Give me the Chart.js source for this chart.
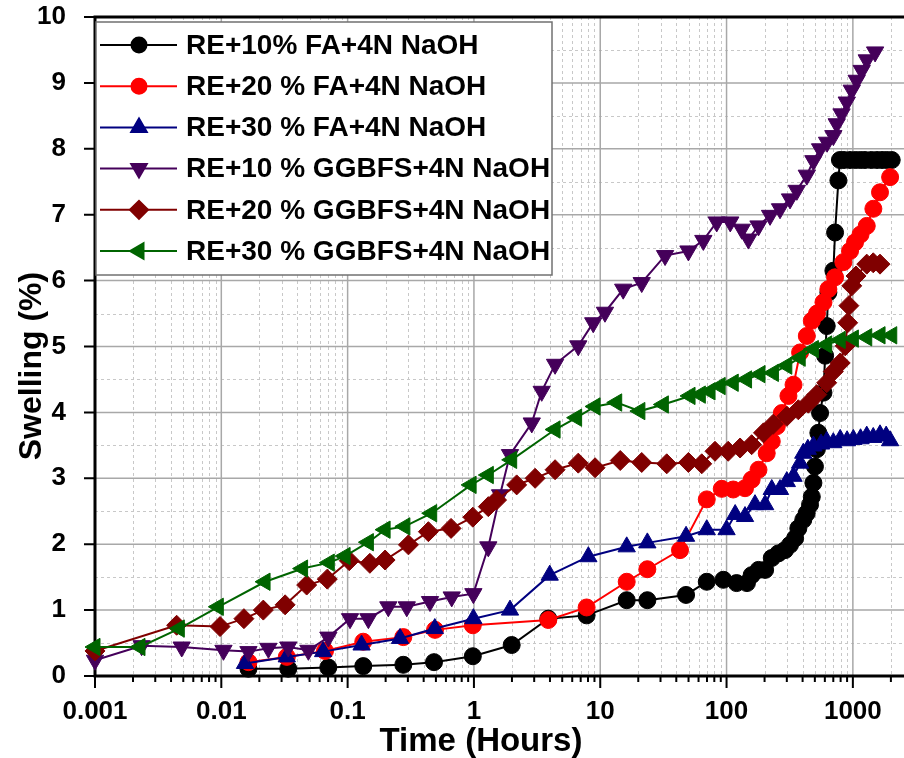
<!DOCTYPE html>
<html>
<head>
<meta charset="utf-8">
<title>Swelling vs time</title>
<script src="https://cdn.jsdelivr.net/npm/chart.js@4.4.1/dist/chart.umd.min.js"></script>
<style>
  html, body { margin: 0; padding: 0; background: #fff; }
  #wrap { width: 904px; height: 758px; }
</style>
</head>
<body>
<div id="wrap"><canvas id="swellChart" width="904" height="758"></canvas></div>
<script>
// Series names (legend order)
const seriesLabels = [
    "RE+10% FA+4N NaOH",
    "RE+20 % FA+4N NaOH",
    "RE+30 % FA+4N NaOH",
    "RE+10 % GGBFS+4N NaOH",
    "RE+20 % GGBFS+4N NaOH",
    "RE+30 % GGBFS+4N NaOH"
];

// Tick labels
const xTickValues = [0.001, 0.01, 0.1, 1, 10, 100, 1000];
const xTickLabels = ["0.001", "0.01", "0.1", "1", "10", "100", "1000"];
const yTickValues = [0, 1, 2, 3, 4, 5, 6, 7, 8, 9, 10];

// RE+10% FA
const fa10Time = [0.0164, 0.0339, 0.0703, 0.133, 0.276, 0.483, 0.98, 1.99, 3.88, 7.8, 16.2, 23.6, 47.8, 69.7, 94.4, 120, 145, 158, 179, 202, 228, 257, 290, 318, 349, 370, 405, 431, 458, 473, 487, 501, 518, 533, 550, 585, 603, 621, 640, 701, 723, 768, 790, 850, 950, 1050, 1150, 1250, 1400, 1550, 1700, 1850, 2030];
const fa10Swell = [0.11, 0.11, 0.13, 0.15, 0.17, 0.21, 0.30, 0.47, 0.87, 0.92, 1.15, 1.15, 1.23, 1.43, 1.46, 1.41, 1.41, 1.53, 1.61, 1.61, 1.79, 1.86, 1.91, 1.99, 2.09, 2.24, 2.37, 2.47, 2.60, 2.72, 2.93, 3.18, 3.44, 3.69, 3.99, 4.30, 4.86, 5.31, 5.82, 6.15, 6.73, 7.52, 7.83, 7.83, 7.83, 7.83, 7.83, 7.83, 7.83, 7.83, 7.83, 7.83, 7.83];

// RE+20% FA
const fa20Time = [0.0164, 0.033, 0.0662, 0.133, 0.276, 0.492, 0.98, 3.88, 7.8, 16.2, 23.6, 42.8, 69.7, 91.6, 113, 140, 158, 179, 208, 228, 250, 274, 309, 339, 382, 432, 473, 520, 585, 640, 723, 841, 950, 1040, 1150, 1288, 1453, 1640, 1972];
const fa20Swell = [0.21, 0.29, 0.38, 0.52, 0.59, 0.70, 0.77, 0.85, 1.04, 1.43, 1.62, 1.91, 2.68, 2.84, 2.83, 2.85, 2.98, 3.13, 3.38, 3.56, 3.79, 3.99, 4.25, 4.42, 4.91, 5.16, 5.39, 5.50, 5.67, 5.87, 6.05, 6.28, 6.45, 6.58, 6.70, 6.83, 7.09, 7.34, 7.57];

// RE+30% FA
const fa30Time = [0.0154, 0.033, 0.064, 0.129, 0.26, 0.49, 0.99, 1.93, 3.98, 8.05, 16.2, 23.6, 47.8, 69.7, 100, 117, 140, 168, 202, 228, 265, 300, 339, 382, 405, 440, 487, 560, 621, 700, 794, 900, 1009, 1150, 1288, 1450, 1640, 1835, 1972];
const fa30Swell = [0.19, 0.29, 0.37, 0.47, 0.57, 0.72, 0.87, 1.00, 1.53, 1.81, 1.96, 2.02, 2.12, 2.22, 2.22, 2.45, 2.42, 2.60, 2.60, 2.83, 2.83, 2.95, 3.03, 3.23, 3.38, 3.44, 3.49, 3.52, 3.56, 3.54, 3.59, 3.57, 3.59, 3.60, 3.64, 3.62, 3.66, 3.64, 3.57];

// RE+10% GGBFS
const gg10Time = [0.001, 0.00234, 0.00486, 0.0104, 0.0164, 0.0236, 0.0339, 0.0489, 0.0704, 0.1045, 0.146, 0.21, 0.294, 0.449, 0.667, 0.99, 1.30, 1.61, 1.93, 2.87, 3.44, 4.39, 6.7, 8.8, 10.9, 15.2, 21.3, 32.6, 49.9, 65.5, 83.6, 107, 132, 149, 179, 221, 265, 318, 360, 432, 487, 550, 625, 701, 745, 813, 895, 980, 1072, 1175, 1288, 1500];
const gg10Swell = [0.24, 0.46, 0.44, 0.39, 0.37, 0.42, 0.44, 0.39, 0.59, 0.87, 0.87, 1.05, 1.05, 1.13, 1.20, 1.25, 1.96, 2.75, 3.36, 3.84, 4.32, 4.73, 5.01, 5.36, 5.52, 5.87, 5.97, 6.38, 6.45, 6.61, 6.89, 6.89, 6.78, 6.63, 6.83, 6.99, 7.09, 7.24, 7.37, 7.60, 7.82, 8.00, 8.10, 8.20, 8.38, 8.53, 8.71, 8.89, 9.04, 9.19, 9.35, 9.47];

// RE+20% GGBFS
const gg20Time = [0.001, 0.00443, 0.00977, 0.0151, 0.0215, 0.032, 0.0474, 0.069, 0.103, 0.150, 0.198, 0.303, 0.436, 0.659, 0.98, 1.30, 1.51, 2.18, 3.05, 4.39, 6.7, 9.1, 14.4, 21.3, 33.6, 49.9, 63.6, 81, 103, 128, 158, 196, 234, 300, 370, 444, 518, 621, 700, 794, 870, 910, 930, 980, 1060, 1288, 1450, 1640];
const gg20Swell = [0.38, 0.77, 0.75, 0.87, 1.00, 1.08, 1.38, 1.47, 1.75, 1.71, 1.76, 1.99, 2.19, 2.24, 2.41, 2.57, 2.67, 2.90, 3.00, 3.13, 3.23, 3.16, 3.27, 3.24, 3.22, 3.24, 3.22, 3.41, 3.41, 3.46, 3.51, 3.69, 3.82, 3.94, 4.04, 4.14, 4.27, 4.45, 4.62, 4.75, 5.01, 5.36, 5.62, 5.92, 6.07, 6.25, 6.27, 6.25];

// RE+30% GGBFS
const gg30Time = [0.001, 0.00227, 0.00465, 0.00947, 0.0222, 0.044, 0.0716, 0.0955, 0.146, 0.198, 0.284, 0.463, 0.95, 1.30, 1.99, 4.39, 6.5, 9.1, 13.5, 20.6, 31.6, 51.4, 62, 74, 89, 113, 144, 184, 235, 300, 383, 487, 621, 794, 1009, 1288, 1641, 2032];
const gg30Swell = [0.44, 0.44, 0.72, 1.05, 1.43, 1.63, 1.72, 1.82, 2.03, 2.22, 2.27, 2.47, 2.90, 3.05, 3.28, 3.74, 3.92, 4.09, 4.15, 4.02, 4.12, 4.25, 4.27, 4.32, 4.40, 4.45, 4.50, 4.58, 4.60, 4.71, 4.83, 4.96, 5.03, 5.10, 5.12, 5.14, 5.17, 5.17];

const seriesTimes = [fa10Time, fa20Time, fa30Time, gg10Time, gg20Time, gg30Time];
const seriesSwells = [fa10Swell, fa20Swell, fa30Swell, gg10Swell, gg20Swell, gg30Swell];

// Styles for each series
const seriesStyles = [
    { color: "#000000", pointStyle: "circle", rotation: 0, radius: 8.5, legendRadius: 7.5 },
    { color: "#ff0000", pointStyle: "circle", rotation: 0, radius: 8.5, legendRadius: 7.5 },
    { color: "#000080", pointStyle: "triangle", rotation: 0, radius: 10, legendRadius: 9 },
    { color: "#45005a", pointStyle: "triangle", rotation: 180, radius: 10, legendRadius: 9 },
    { color: "#800000", pointStyle: "rectRot", rotation: 0, radius: 10, legendRadius: 9 },
    { color: "#006400", pointStyle: "triangle", rotation: 270, radius: 10, legendRadius: 9 }
];

const FONT = "Arial, 'Liberation Sans', sans-serif";

// Gridlines, axis frame and ticks
const frameLines = {
    id: "frameLines",
    beforeDatasetsDraw(chart) {
        const { ctx, chartArea: a, scales: { x, y } } = chart;
        ctx.save();

        // minor grid (dashed)
        ctx.strokeStyle = "#c8c8c8";
        ctx.lineWidth = 1;
        ctx.setLineDash([3, 3]);
        ctx.beginPath();
        xTickValues.forEach(d => {
            for (let k = 2; k <= 9; k++) {
                const px = Math.round(x.getPixelForValue(d * k)) + 0.5;
                if (px > a.left + 1 && px < a.right) {
                    ctx.moveTo(px, a.top);
                    ctx.lineTo(px, a.bottom);
                }
            }
        });
        for (let v = 0.5; v < 10; v += 1) {
            const py = Math.round(y.getPixelForValue(v)) + 0.5;
            ctx.moveTo(a.left, py);
            ctx.lineTo(a.right, py);
        }
        ctx.stroke();

        // major grid (solid)
        ctx.setLineDash([]);
        ctx.strokeStyle = "#a8a8a8";
        ctx.lineWidth = 1.5;
        ctx.beginPath();
        xTickValues.forEach(d => {
            const px = x.getPixelForValue(d);
            if (px > a.left + 1) {
                ctx.moveTo(px, a.top);
                ctx.lineTo(px, a.bottom);
            }
        });
        yTickValues.forEach(v => {
            const py = y.getPixelForValue(v);
            if (py < a.bottom - 1 && py > a.top + 1) {
                ctx.moveTo(a.left, py);
                ctx.lineTo(a.right, py);
            }
        });
        ctx.stroke();

        // axis lines
        ctx.strokeStyle = "#000";
        ctx.lineWidth = 3;
        ctx.beginPath();
        ctx.moveTo(a.left, a.top);
        ctx.lineTo(a.right, a.top);
        ctx.moveTo(a.left, a.top - 1.5);
        ctx.lineTo(a.left, a.bottom + 1.5);
        ctx.moveTo(a.left - 1.5, a.bottom);
        ctx.lineTo(a.right, a.bottom);
        ctx.stroke();

        // x ticks (outward)
        ctx.lineWidth = 2;
        ctx.beginPath();
        xTickValues.forEach(d => {
            const px = x.getPixelForValue(d);
            ctx.moveTo(px, a.bottom);
            ctx.lineTo(px, a.bottom + 12);
            for (let k = 2; k <= 9; k++) {
                const pm = x.getPixelForValue(d * k);
                if (pm < a.right) {
                    ctx.moveTo(pm, a.bottom);
                    ctx.lineTo(pm, a.bottom + 6);
                }
            }
        });
        // y ticks (outward)
        yTickValues.forEach(v => {
            const py = y.getPixelForValue(v);
            ctx.moveTo(a.left, py);
            ctx.lineTo(a.left - 11, py);
        });
        ctx.stroke();
        ctx.restore();
    }
};

// Boxed legend inside the plot, line + marker samples
const boxLegend = {
    id: "boxLegend",
    afterDatasetsDraw(chart) {
        const ctx = chart.ctx;
        const box = { left: 96, top: 22, right: 552, bottom: 275 };
        ctx.save();
        ctx.fillStyle = "#fff";
        ctx.fillRect(box.left, box.top, box.right - box.left, box.bottom - box.top);
        ctx.strokeStyle = "#707070";
        ctx.lineWidth = 1.5;
        ctx.strokeRect(box.left, box.top, box.right - box.left, box.bottom - box.top);

        chart.data.datasets.forEach((ds, i) => {
            const st = seriesStyles[i];
            const cy = box.top + 23 + i * 41.2;
            ctx.strokeStyle = st.color;
            ctx.lineWidth = 2;
            ctx.beginPath();
            ctx.moveTo(100, cy);
            ctx.lineTo(177, cy);
            ctx.stroke();
            ctx.fillStyle = st.color;
            Chart.helpers.drawPoint(ctx, {
                pointStyle: st.pointStyle,
                rotation: st.rotation,
                radius: st.legendRadius,
                borderWidth: 1
            }, 139, cy);
            ctx.fill();

            ctx.fillStyle = "#000";
            ctx.font = "bold 28px " + FONT;
            ctx.textBaseline = "middle";
            ctx.textAlign = "left";
            ctx.fillText(ds.label, 186, cy + 1);
        });
        ctx.restore();
    }
};

// Axis titles
const axisTitles = {
    id: "axisTitles",
    afterDraw(chart) {
        const ctx = chart.ctx;
        ctx.save();
        ctx.fillStyle = "#000";
        ctx.font = "bold 33px " + FONT;
        ctx.textAlign = "center";
        ctx.textBaseline = "alphabetic";
        ctx.fillText("Time (Hours)", 481, 751);

        ctx.font = "bold 32px " + FONT;
        ctx.translate(41, 366);
        ctx.rotate(-Math.PI / 2);
        ctx.fillText("Swelling (%)", 0, 0);
        ctx.restore();
    }
};

function buildDatasets() {
    return seriesLabels.map((label, i) => {
        const st = seriesStyles[i];
        return {
            label: label,
            data: seriesTimes[i].map((t, j) => ({ x: t, y: seriesSwells[i][j] })),
            showLine: true,
            borderColor: st.color,
            backgroundColor: st.color,
            borderWidth: 2,
            pointStyle: st.pointStyle,
            rotation: st.rotation,
            pointRadius: st.radius,
            pointBorderWidth: 1,
            pointHoverRadius: st.radius,
            clip: false,
            order: seriesLabels.length - i
        };
    });
}

function createSwellingChart() {
    const ctx = document.getElementById("swellChart").getContext("2d");
    Chart.defaults.font.family = FONT;
    Chart.defaults.color = "#000";

    window.swellChart = new Chart(ctx, {
        type: "scatter",
        data: { datasets: buildDatasets() },
        options: {
            responsive: false,
            animation: false,
            layout: { autoPadding: false, padding: { top: 17, right: 0, left: 0, bottom: 0 } },
            plugins: {
                legend: { display: false },
                tooltip: { enabled: false }
            },
            scales: {
                x: {
                    type: "logarithmic",
                    min: 0.001,
                    max: 2540,
                    grid: { display: false },
                    border: { display: false },
                    afterBuildTicks: scale => {
                        scale.ticks = xTickValues.map(v => ({ value: v, major: true }));
                    },
                    afterFit: scale => {
                        scale.height = 82;
                        scale.paddingLeft = 0;
                        scale.paddingRight = 0;
                    },
                    ticks: {
                        autoSkip: false,
                        maxRotation: 0,
                        padding: 12,
                        font: { size: 26, weight: "bold" },
                        callback: (v, i) => xTickLabels[i]
                    }
                },
                y: {
                    min: 0,
                    max: 10,
                    grid: { display: false },
                    border: { display: false },
                    afterBuildTicks: scale => {
                        scale.ticks = yTickValues.map(v => ({ value: v }));
                    },
                    afterFit: scale => {
                        scale.width = 95;
                        scale.paddingTop = 0;
                        scale.paddingBottom = 0;
                    },
                    ticks: {
                        padding: 21,
                        font: { size: 26, weight: "bold" },
                        callback: v => String(v)
                    }
                }
            }
        },
        plugins: [frameLines, boxLegend, axisTitles]
    });
}

document.addEventListener("DOMContentLoaded", createSwellingChart);
</script>
</body>
</html>
